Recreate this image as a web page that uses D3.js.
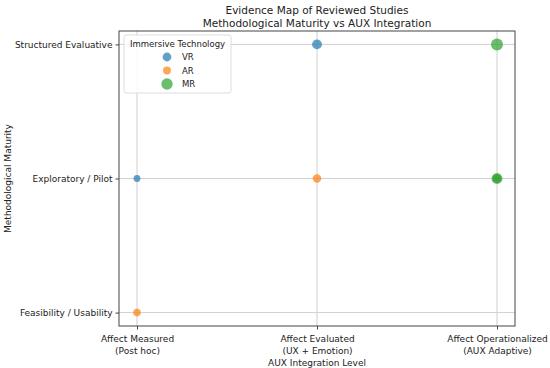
<!DOCTYPE html>
<html lang="en">
<head>
<meta charset="utf-8">
<script src="https://cdn.jsdelivr.net/npm/d3@7"></script>
<style>
  body { margin: 0; background: #fff; }
  text { font-family: "DejaVu Sans", sans-serif; fill: #222; }
</style>
</head>
<body>
<svg id="chart" width="550" height="368"></svg>
<script>
// x categories (AUX integration level) and y categories (maturity)
var xLevels = [["Affect Measured", "(Post hoc)"], ["Affect Evaluated", "(UX + Emotion)"], ["Affect Operationalized", "(AUX Adaptive)"]];
var yLevels = ["Feasibility / Usability", "Exploratory / Pilot", "Structured Evaluative"];

// studies per technology: x index, y index, count
var techs = ["VR", "AR", "MR"];
var techColors = ["#1f77b4", "#ff7f0e", "#2ca02c"];
var vrPoints = [{x: 0, y: 1, n: 1}, {x: 1, y: 2, n: 2}];
var arPoints = [{x: 0, y: 0, n: 1.2}, {x: 1, y: 1, n: 1.5}];
var mrPoints = [{x: 2, y: 2, n: 3}, {x: 2, y: 1, n: 2.5}, {x: 2, y: 1, n: 1.5}];
var legendSizes = [1.6, 1.3, 2.7];

var svg = d3.select("#chart");
var pLeft = 119, pRight = 515, pTop = 31, pBottom = 326;

var x = d3.scaleLinear().domain([-0.1, 2.1]).range([pLeft, pRight]);
var y = d3.scaleLinear().domain([-0.1, 2.1]).range([pBottom, pTop]);
var r = d3.scaleSqrt().domain([0, 3]).range([0, 6]);

// grid
svg.append("g").selectAll("line").data([0, 1, 2]).enter().append("line")
    .attr("x1", d => x(d)).attr("x2", d => x(d)).attr("y1", pTop).attr("y2", pBottom)
    .attr("stroke", "#d0d0d0").attr("stroke-width", 1);
svg.append("g").selectAll("line").data([0, 1, 2]).enter().append("line")
    .attr("y1", d => y(d)).attr("y2", d => y(d)).attr("x1", pLeft).attr("x2", pRight)
    .attr("stroke", "#d0d0d0").attr("stroke-width", 1);

// points
var series = [vrPoints, arPoints, mrPoints];
series.forEach(function (pts, i) {
    svg.append("g").selectAll("circle").data(pts).enter().append("circle")
        .attr("cx", d => x(d.x)).attr("cy", d => y(d.y)).attr("r", d => r(d.n))
        .attr("fill", techColors[i]).attr("fill-opacity", 0.7);
});

// axes
var xAxis = svg.append("g").attr("transform", "translate(0," + pBottom + ")")
    .call(d3.axisBottom(x).tickValues([0, 1, 2]).tickSize(3.5).tickFormat(""));
xAxis.select(".domain").remove();
xAxis.selectAll(".tick").each(function (d) {
    var t = d3.select(this).append("text").attr("text-anchor", "middle")
        .attr("font-size", 9).attr("fill", "#222");
    xLevels[d].forEach(function (s, k) {
        t.append("tspan").attr("x", 0).attr("y", 16 + k * 12).text(s);
    });
});
var yAxis = svg.append("g").attr("transform", "translate(" + pLeft + ",0)")
    .call(d3.axisLeft(y).tickValues([0, 1, 2]).tickSize(3.5).tickFormat(d => yLevels[d]));
yAxis.select(".domain").remove();
yAxis.selectAll("text").attr("font-size", 9).attr("font-family", "DejaVu Sans, sans-serif").attr("fill", "#222");
svg.selectAll(".tick line").attr("stroke", "#444");

// frame
svg.append("rect").attr("x", pLeft).attr("y", pTop).attr("width", pRight - pLeft).attr("height", pBottom - pTop)
    .attr("fill", "none").attr("stroke", "#444").attr("stroke-width", 1);

// titles
svg.append("text").attr("x", (pLeft + pRight) / 2).attr("y", 13.5).attr("text-anchor", "middle")
    .attr("font-size", 10.5).text("Evidence Map of Reviewed Studies");
svg.append("text").attr("x", (pLeft + pRight) / 2).attr("y", 26.5).attr("text-anchor", "middle")
    .attr("font-size", 10.5).text("Methodological Maturity vs AUX Integration");
svg.append("text").attr("x", (pLeft + pRight) / 2).attr("y", 366).attr("text-anchor", "middle")
    .attr("font-size", 9).text("AUX Integration Level");
svg.append("text").attr("transform", "translate(11," + (pTop + pBottom) / 2 + ") rotate(-90)")
    .attr("text-anchor", "middle").attr("font-size", 9).text("Methodological Maturity");

// legend
var lg = svg.append("g").attr("transform", "translate(124,35)");
lg.append("rect").attr("width", 107).attr("height", 58).attr("rx", 2)
    .attr("fill", "#fff").attr("fill-opacity", 0.85).attr("stroke", "#ddd");
lg.append("text").attr("x", 53.5).attr("y", 12).attr("text-anchor", "middle")
    .attr("font-size", 8.5).text("Immersive Technology");
techs.forEach(function (t, i) {
    lg.append("circle").attr("cx", 43).attr("cy", 22 + i * 13.5).attr("r", r(legendSizes[i]))
        .attr("fill", techColors[i]).attr("fill-opacity", 0.7);
    lg.append("text").attr("x", 58).attr("y", 25 + i * 13.5).attr("font-size", 8.5).text(t);
});
</script>
</body>
</html>
